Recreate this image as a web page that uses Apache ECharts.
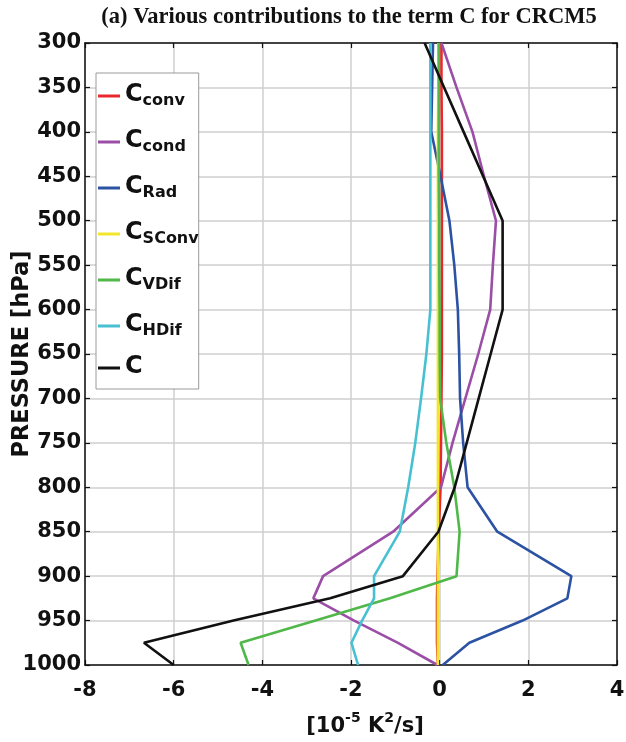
<!DOCTYPE html>
<html>
<head>
<meta charset="utf-8">
<script src="https://cdn.jsdelivr.net/npm/echarts@6/dist/echarts.min.js"></script>
<style>
  html, body { margin: 0; padding: 0; background: #fff; }
  #chart { width: 626px; height: 742px; }
</style>
</head>
<body>
<div id="chart"></div>
<script>
// Pressure levels (hPa) and axis ticks
const pressure = [300, 350, 400, 450, 500, 550, 600, 650, 700, 750, 800, 850, 900, 925, 950, 975, 1000];
const pressureTicks = [300, 350, 400, 450, 500, 550, 600, 650, 700, 750, 800, 850, 900, 950, 1000];
const xTicks = [-8, -6, -4, -2, 0, 2, 4];

// Contributions to the term C, in 1e-5 K^2/s, one value per pressure level
const cConv  = [0.04, 0.04, 0.05, 0.05, 0.05, 0.05, 0.05, 0.05, 0.04, 0.03, 0.02, -0.02, -0.05, -0.06, -0.06, -0.06, -0.04];
const cCond  = [0.04, 0.38, 0.74, 1.00, 1.27, 1.20, 1.14, 0.87, 0.58, 0.29, 0.03, -1.05, -2.63, -2.85, -1.93, -0.94, -0.05];
const cRad   = [-0.15, -0.17, -0.19, 0.02, 0.22, 0.33, 0.41, 0.44, 0.46, 0.53, 0.63, 1.30, 2.97, 2.88, 1.87, 0.67, 0.07];
const cSConv = [-0.03, -0.03, -0.04, -0.04, -0.04, -0.04, -0.04, -0.04, -0.04, -0.04, -0.04, -0.04, -0.04, -0.04, -0.04, -0.04, -0.04];
const cVDif  = [-0.02, -0.02, -0.02, -0.02, -0.01, -0.01, 0.00, 0.00, 0.01, 0.15, 0.33, 0.45, 0.38, -1.12, -2.80, -4.49, -4.31];
const cHDif  = [-0.21, -0.21, -0.21, -0.21, -0.21, -0.21, -0.21, -0.30, -0.42, -0.55, -0.71, -0.90, -1.48, -1.48, -1.75, -1.99, -1.84];
const cTotal = [-0.34, 0.10, 0.54, 0.98, 1.42, 1.42, 1.42, 1.15, 0.88, 0.61, 0.34, -0.03, -0.83, -2.47, -4.65, -6.67, -6.00];

const FONT = 'DejaVu Sans';

const seriesDefs = [
  { name: 'conv',  sub: 'conv',  values: cConv,  color: '#e8282c' },
  { name: 'cond',  sub: 'cond',  values: cCond,  color: '#9a4ea6' },
  { name: 'Rad',   sub: 'Rad',   values: cRad,   color: '#2b52a3' },
  { name: 'SConv', sub: 'SConv', values: cSConv, color: '#f2e62c' },
  { name: 'VDif',  sub: 'VDif',  values: cVDif,  color: '#4fb848' },
  { name: 'HDif',  sub: 'HDif',  values: cHDif,  color: '#47c1d2' },
  { name: 'C',     sub: '',      values: cTotal, color: '#111111' }
];

const subByName = {};
seriesDefs.forEach(d => { subByName[d.name] = d.sub; });

const chart = echarts.init(document.getElementById('chart'), null, { renderer: 'canvas' });

const gridLine = { show: true, lineStyle: { color: '#cfcfcf', width: 1.5 } };
const frameLine = { show: true, onZero: false, lineStyle: { color: '#111', width: 1.5 } };
const innerTick = { show: true, inside: true, length: 5, lineStyle: { color: '#111', width: 1.2 } };

chart.setOption({
  animation: false,
  backgroundColor: '#fff',
  title: {
    text: '(a) Various contributions to the term C for CRCM5',
    left: 344, top: 1, textAlign: 'center',
    textStyle: { fontFamily: 'Liberation Serif', fontWeight: 'bold', fontSize: 22.5, color: '#111' }
  },
  grid: { left: 85, right: 9, top: 43, bottom: 77, containLabel: false, outerBoundsMode: 'none' },
  legend: {
    orient: 'vertical',
    left: 96, top: 73,
    padding: [6, 0, 10, 2],
    itemGap: 16,
    itemWidth: 22, itemHeight: 3,
    itemTextGap: 2,
    icon: 'rect',
    backgroundColor: '#fff',
    borderColor: '#9a9a9a', borderWidth: 1,
    data: seriesDefs.map(d => d.name),
    formatter: name => subByName[name] ? '{c|C}{s|' + subByName[name] + '}' : '{c|C}',
    textStyle: {
      color: '#111',
      rich: {
        c: { fontFamily: FONT, fontWeight: 'bold', fontSize: 24, lineHeight: 26, verticalAlign: 'top', color: '#111' },
        s: { fontFamily: FONT, fontWeight: 'bold', fontSize: 16, lineHeight: 18, verticalAlign: 'bottom', padding: [14, 0, 0, 0], color: '#111' }
      }
    }
  },
  xAxis: [
    {
      type: 'value', position: 'bottom',
      min: xTicks[0], max: xTicks[xTicks.length - 1], interval: 2,
      axisLine: frameLine, axisTick: innerTick, splitLine: gridLine,
      axisLabel: { margin: 15, color: '#111', fontFamily: FONT, fontWeight: 'bold', fontSize: 21 },
      name: '{b|[10}{sup|-5}{b| K}{sup|2}{b|/s]}',
      nameLocation: 'middle', nameGap: 46,
      nameTextStyle: {
        padding: [0, 0, 0, 28],
        rich: {
          b: { fontFamily: FONT, fontWeight: 'bold', fontSize: 21, color: '#111', verticalAlign: 'bottom', lineHeight: 26 },
          sup: { fontFamily: FONT, fontWeight: 'bold', fontSize: 14, color: '#111', verticalAlign: 'top', lineHeight: 16, padding: [0, 0, 10, 0] }
        }
      }
    },
    {
      type: 'value', position: 'top',
      min: xTicks[0], max: xTicks[xTicks.length - 1], interval: 2,
      axisLine: frameLine, axisTick: innerTick, splitLine: { show: false },
      axisLabel: { show: false }
    }
  ],
  yAxis: [
    {
      type: 'value', inverse: true, position: 'left',
      min: pressureTicks[0], max: pressureTicks[pressureTicks.length - 1], interval: 50,
      axisLine: frameLine, axisTick: innerTick, splitLine: gridLine,
      axisLabel: { margin: 4, color: '#111', fontFamily: FONT, fontWeight: 'bold', fontSize: 21, formatter: v => String(v) },
      name: 'PRESSURE [hPa]',
      nameLocation: 'middle', nameGap: 51, nameRotate: 90, nameMoveOverlap: false,
      nameTextStyle: { fontFamily: FONT, fontWeight: 'bold', fontSize: 22.5, color: '#111' }
    },
    {
      type: 'value', inverse: true, position: 'right',
      min: pressureTicks[0], max: pressureTicks[pressureTicks.length - 1], interval: 50,
      axisLine: frameLine, axisTick: innerTick, splitLine: { show: false },
      axisLabel: { show: false }
    }
  ],
  series: seriesDefs.map(d => ({
    name: d.name,
    type: 'line',
    xAxisIndex: 0, yAxisIndex: 0,
    showSymbol: false, symbol: 'none',
    color: d.color,
    lineStyle: { color: d.color, width: 2.6 },
    data: pressure.map((p, i) => [d.values[i], p])
  }))
});
</script>
</body>
</html>
